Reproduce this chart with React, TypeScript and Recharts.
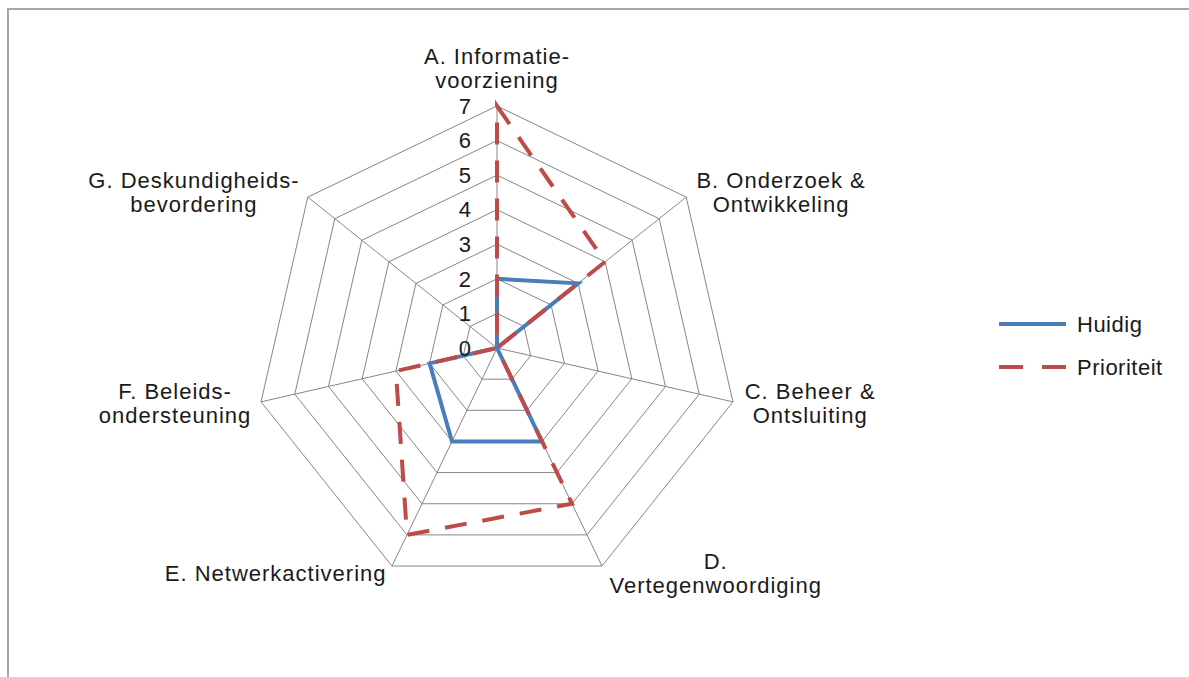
import React from "react";
import {
  RadarChart,
  Radar,
  PolarGrid,
  PolarAngleAxis,
  PolarRadiusAxis,
  Legend,
} from "recharts";

const categories = [
  "A. Informatie-\nvoorziening",
  "B. Onderzoek &\nOntwikkeling",
  "C. Beheer &\nOntsluiting",
  "D.\nVertegenwoordiging",
  "E. Netwerkactivering",
  "F. Beleids-\nondersteuning",
  "G. Deskundigheids-\nbevordering",
];
const huidig = [2, 3, 0, 3, 3, 2, 0];
const prioriteit = [7, 4, 0, 5, 6, 3, 0];
const radiusTicks = [0, 1, 2, 3, 4, 5, 6, 7];

const data = categories.map((category, i) => ({
  category,
  huidig: huidig[i],
  prioriteit: prioriteit[i],
}));

const FONT = '"Liberation Sans", Arial, sans-serif';
const FS = 22;
const LS = 1;
const LH = 24;
const CX = 497;
const CY = 348;
const BLUE = "#4a7ebb";
const RED = "#be4b48";
const GRID = "#868686";
const DASH = "22 16";

let ctx: CanvasRenderingContext2D | null = null;
function measure(s: string) {
  if (!ctx) ctx = document.createElement("canvas").getContext("2d");
  if (!ctx) return s.length * (FS * 0.5 + LS);
  ctx.font = `${FS}px ${FONT}`;
  return ctx.measureText(s).width + s.length * LS;
}

// eslint-disable-next-line @typescript-eslint/no-explicit-any
function AngleTick(props: any) {
  const { x, y, payload, textAnchor } = props;
  const lines = String(payload.value).split("\n");
  const w = Math.max(...lines.map(measure));
  let tx = x;
  if (textAnchor === "start") tx = x + 4 + w / 2;
  else if (textAnchor === "end") tx = x - 2 - w / 2;
  const n = lines.length;
  let center = y;
  if (textAnchor === "middle" && y < CY) center = y - (n * LH) / 2 - 6;
  const first = center - ((n - 1) * LH) / 2;
  return (
    <text
      textAnchor="middle"
      fontFamily={FONT}
      fontSize={FS}
      letterSpacing={LS}
      fill="#1a1a1a"
    >
      {lines.map((l, i) => (
        <tspan key={i} x={tx} y={first + i * LH} dy="0.35em">
          {l}
        </tspan>
      ))}
    </text>
  );
}

// eslint-disable-next-line @typescript-eslint/no-explicit-any
function RadiusTick(props: any) {
  const { x, y, payload } = props;
  return (
    <text
      x={x - 26}
      y={y}
      dy="0.35em"
      textAnchor="end"
      fontFamily={FONT}
      fontSize={FS}
      fill="#1a1a1a"
    >
      {payload.value}
    </text>
  );
}

// eslint-disable-next-line @typescript-eslint/no-explicit-any
function LegendContent(props: any) {
  const items = props.payload || [];
  return (
    <svg width={190} height={90}>
      {/* eslint-disable-next-line @typescript-eslint/no-explicit-any */}
      {items.map((it: any, i: number) => {
        const y = 20 + i * 43;
        return (
          <g key={i}>
            <line
              x1={4}
              x2={71}
              y1={y}
              y2={y}
              stroke={it.color}
              strokeWidth={4}
              strokeDasharray={i === 1 ? "24 19" : undefined}
            />
            <text
              x={82}
              y={y}
              dy="0.35em"
              fontFamily={FONT}
              fontSize={FS}
              letterSpacing={0.5}
              fill="#1a1a1a"
            >
              {it.value}
            </text>
          </g>
        );
      })}
    </svg>
  );
}

export default function App() {
  return (
    <div
      style={{
        position: "fixed",
        left: 0,
        top: 0,
        width: 1189,
        height: 677,
        overflow: "hidden",
        background: "#fff",
      }}
    >
      <div
        style={{
          position: "absolute",
          left: 7,
          top: 8,
          width: 1250,
          height: 750,
          border: "2px solid #a6a6a6",
        }}
      />
      <div style={{ position: "absolute", left: 0, top: 0 }}>
        <RadarChart
          width={1189}
          height={677}
          data={data}
          cx={CX}
          cy={CY}
          outerRadius={242}
          startAngle={90}
          endAngle={-270}
        >
          <PolarGrid gridType="polygon" stroke={GRID} strokeOpacity={1} />
          <PolarAngleAxis
            dataKey="category"
            tick={<AngleTick />}
            tickLine={false}
            axisLine={false}
          />
          <PolarRadiusAxis
            angle={90}
            domain={[0, 7]}
            ticks={radiusTicks as any}
            tickCount={8}
            tick={<RadiusTick />}
            axisLine={false}
            tickLine={false}
          />
          <Radar
            name="Huidig"
            dataKey="huidig"
            stroke={BLUE}
            strokeWidth={4}
            fill="none"
            fillOpacity={0}
            dot={false}
            isAnimationActive={false}
          />
          <Radar
            name="Prioriteit"
            dataKey="prioriteit"
            stroke={RED}
            strokeWidth={4}
            strokeDasharray={DASH}
            fill="none"
            fillOpacity={0}
            dot={false}
            isAnimationActive={false}
          />
          <Legend
            layout="vertical"
            content={<LegendContent />}
            wrapperStyle={{ left: 995, top: 304, width: 190, right: "auto" }}
          />
        </RadarChart>
      </div>
    </div>
  );
}
